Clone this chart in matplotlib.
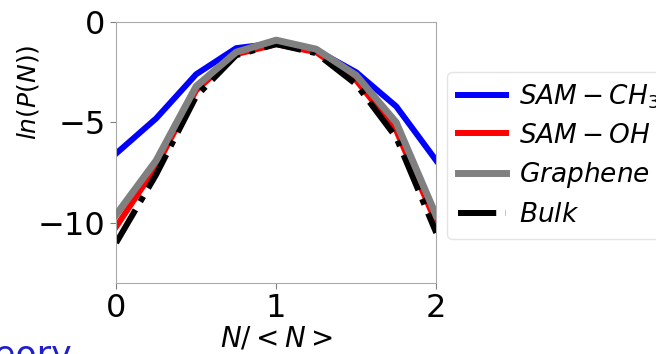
import matplotlib
matplotlib.use("Agg")
import matplotlib.pyplot as plt

x = [0, 0.25, 0.5, 0.75, 1.0, 1.25, 1.5, 1.75, 2.0]
sam_ch3 = [-6.55, -4.8, -2.6, -1.3, -1.05, -1.4, -2.5, -4.2, -6.9]
sam_oh = [-10.2, -7.2, -3.4, -1.6, -1.1, -1.5, -2.9, -5.4, -10.0]
graphene = [-9.6, -6.9, -3.2, -1.5, -0.9, -1.35, -2.65, -5.0, -9.65]
bulk = [-11.0, -7.6, -3.7, -1.65, -1.1, -1.55, -3.1, -5.75, -10.5]

fig = plt.figure(figsize=(6.56, 3.54), dpi=100)
ax = fig.add_axes([0.177, 0.2006, 0.488, 0.737])

ax.plot(x, sam_ch3, color="blue", lw=4.3, label=r"$SAM-CH_3$")
ax.plot(x, sam_oh, color="red", lw=4.3, label=r"$SAM-OH$")
ax.plot(x, bulk, color="black", lw=4.3, ls="-.", label=r"$Bulk$", zorder=2)
ax.plot(x, graphene, color="gray", lw=5, label=r"$Graphene$", zorder=3)

ax.set_xlim(0, 2)
ax.set_ylim(-13, 0)
ax.set_xticks([0, 1, 2])
ax.set_yticks([0, -5, -10])
ax.tick_params(labelsize=23, color="gray", length=4)
for s in ax.spines.values():
    s.set_color("#aaaaaa")

ax.set_ylabel(r"$ln(P(N))$", fontsize=18)
ax.yaxis.set_label_coords(-0.235, 0.73)
ax.set_xlabel(r"$N/<N>$", fontsize=20, labelpad=0)

h, l = ax.get_legend_handles_labels()
order = [0, 1, 3, 2]
fig.legend([h[i] for i in order], [l[i] for i in order],
           loc="upper left", bbox_to_anchor=(0.662, 0.835),
           fontsize=19, handlelength=1.8, handletextpad=0.5,
           borderpad=0.4, labelspacing=0.45, framealpha=1,
           edgecolor="#e4e4e4", fancybox=True)

fig.text(-0.075, -0.035, "Theory", color="#2020c8", fontsize=25)

fig.savefig("out.png", dpi=100)
